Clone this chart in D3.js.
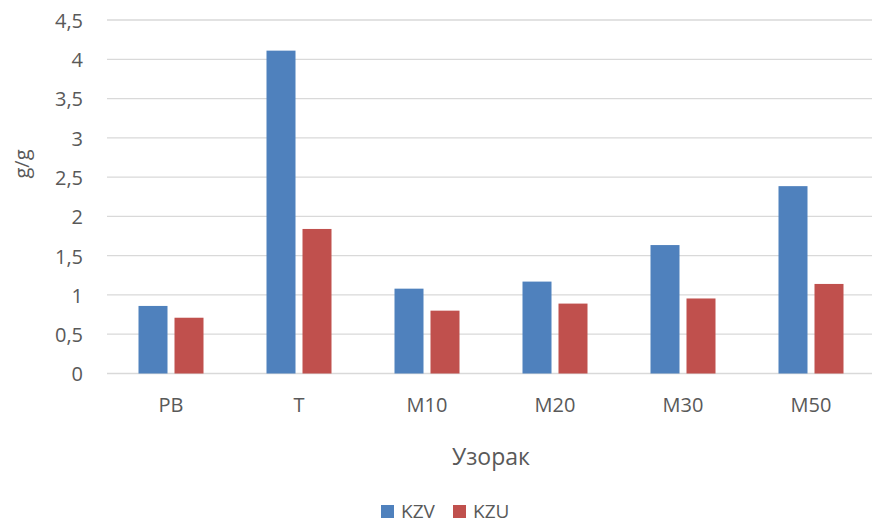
<!DOCTYPE html>
<html>
<head>
<meta charset="utf-8">
<script src="https://cdn.jsdelivr.net/npm/d3@7"></script>
<style>
  html, body { margin: 0; padding: 0; background: #fff; }
  svg text { font-family: "Open Sans", "Noto Sans", sans-serif; fill: #595959; }
</style>
</head>
<body>
<svg id="chart" width="872" height="522"></svg>
<script>
// Samples and their measured values (g/g)
const categories = ["PB", "T", "M10", "M20", "M30", "M50"];
const seriesNames = ["KZV", "KZU"];
const kzv = [0.86, 4.11, 1.08, 1.17, 1.635, 2.385];
const kzu = [0.71, 1.84, 0.80, 0.89, 0.955, 1.14];
const yTicks = [0, 0.5, 1, 1.5, 2, 2.5, 3, 3.5, 4, 4.5];
const colors = ["#4f81bd", "#c0504d"];

const svg = d3.select("#chart");
const plotLeft = 107, plotRight = 875, plotTop = 20, plotBottom = 373.5;
const x0 = d3.scaleBand().domain(categories).range([plotLeft, plotRight]);
const y = d3.scaleLinear().domain([0, 4.5]).range([plotBottom, plotTop]);

const fmt = v => String(v).replace(".", ",");

// Horizontal gridlines
svg.append("g").selectAll("line").data(yTicks).join("line")
  .attr("x1", plotLeft).attr("x2", plotRight)
  .attr("y1", d => y(d)).attr("y2", d => y(d))
  .attr("stroke", "#d9d9d9").attr("stroke-width", 1.3);

// Y axis tick labels
const yAxis = d3.axisLeft(y).tickValues(yTicks).tickFormat(fmt).tickSize(0).tickPadding(24);
const gy = svg.append("g").attr("transform", `translate(${plotLeft},0)`).call(yAxis);
gy.select(".domain").remove();
gy.selectAll("text").style("font-size", "20px").attr("fill", "#595959").attr("dy", "0.37em");

// Bars
const barW = 29, gap = 7;
const rows = categories.map((c, i) => ({ c, vals: [kzv[i], kzu[i]] }));
const grp = svg.append("g").selectAll("g").data(rows).join("g")
  .attr("transform", d => `translate(${x0(d.c) + x0.bandwidth() / 2},0)`);
grp.selectAll("rect").data(d => d.vals.map((v, k) => ({ v, k }))).join("rect")
  .attr("x", d => d.k === 0 ? -gap / 2 - barW : gap / 2)
  .attr("width", barW)
  .attr("y", d => y(d.v))
  .attr("height", d => y(0) - y(d.v))
  .attr("fill", d => colors[d.k]);

// X axis category labels
const xAxis = d3.axisBottom(x0).tickSize(0);
const gx = svg.append("g").attr("transform", `translate(0,${plotBottom})`).call(xAxis);
gx.select(".domain").remove();
gx.selectAll("text").style("font-size", "20px").attr("fill", "#595959")
  .attr("dy", null).attr("y", 412 - plotBottom);

// Axis titles
svg.append("text").attr("x", 491).attr("y", 465).attr("text-anchor", "middle")
  .style("font-size", "23px").text("Узорак");
svg.append("text").attr("transform", "translate(29,164) rotate(-90)")
  .attr("text-anchor", "middle").style("font-size", "20px").text("g/g");

// Legend
const legend = svg.append("g").selectAll("g").data(seriesNames).join("g")
  .attr("transform", (d, i) => `translate(${381 + i * 72},505)`);
legend.append("rect").attr("width", 13).attr("height", 13).attr("fill", (d, i) => colors[i]);
legend.append("text").attr("x", 20).attr("y", 12.5).style("font-size", "19px").text(d => d);
</script>
</body>
</html>
